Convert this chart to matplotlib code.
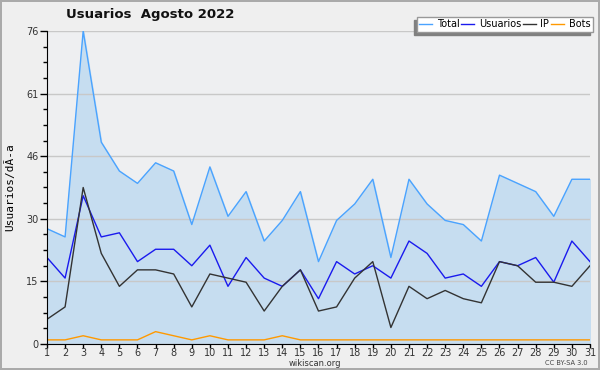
import matplotlib
matplotlib.use("Agg")
import matplotlib.pyplot as plt
from matplotlib.ticker import FixedLocator, MultipleLocator
from matplotlib.patches import Rectangle
import numpy as np

days = list(range(1, 32))
total = [28, 26, 76, 49, 42, 39, 44, 42, 29, 43, 31, 37, 25, 30, 37, 20,
         30, 34, 40, 21, 40, 34, 30, 29, 25, 41, 39, 37, 31, 40, 40]
usuarios = [21, 16, 36, 26, 27, 20, 23, 23, 19, 24, 14, 21, 16, 14, 18, 11,
            20, 17, 19, 16, 25, 22, 16, 17, 14, 20, 19, 21, 15, 25, 20]
ip = [6, 9, 38, 22, 14, 18, 18, 17, 9, 17, 16, 15, 8, 14, 18, 8,
      9, 16, 20, 4, 14, 11, 13, 11, 10, 20, 19, 15, 15, 14, 19]
bots = [1, 1, 2, 1, 1, 1, 3, 2, 1, 2, 1, 1, 1, 2, 1, 1,
        1, 1, 1, 1, 1, 1, 1, 1, 1, 1, 1, 1, 1, 1, 1]
ymax = 76

fig = plt.figure(figsize=(6, 3.7), dpi=100, facecolor="#efefef",
                 edgecolor="#aaaaaa", linewidth=1.5)
ax = fig.add_axes([0.0783, 0.0703, 0.905, 0.8459])
ax.set_facecolor("#eeeff1")

ax.fill_between(days, total, 0, color="#c6ddf0", zorder=1)
ax.plot(days, total, color="#4aa3ff", lw=1, label="Total", zorder=3)
ax.plot(days, usuarios, color="#1a1aee", lw=1, label="Usuarios", zorder=4)
ax.plot(days, ip, color="#333333", lw=1, label="IP", zorder=4)
ax.plot(days, bots, color="#ff9900", lw=1, label="Bots", zorder=4)

ax.set_xlim(1, 31)
ax.set_ylim(0, ymax)
major = [ymax * i / 5 for i in range(6)]
ax.yaxis.set_major_locator(FixedLocator(major))
ax.set_yticklabels([str(int(round(v))) for v in major])
ax.yaxis.set_minor_locator(MultipleLocator(ymax / 20))
ax.set_xticks(days)
ax.grid(axis="y", color="#c8c8c8", lw=1)
for g in ax.get_ygridlines():
    g.set_zorder(2)

for s in ["top", "right"]:
    ax.spines[s].set_visible(False)
ax.spines["left"].set_zorder(5)
ax.spines["bottom"].set_zorder(5)
ax.tick_params(axis="y", which="major", length=5, width=1, labelsize=7,
               labelcolor="#333333", pad=1)
ax.tick_params(axis="y", which="minor", length=3, width=1)
ax.tick_params(axis="x", length=3, width=1, labelsize=7,
               labelcolor="#333333", pad=0, direction="out")

ax.set_ylabel("Usuarios/dÃ-a", fontsize=8, family="DejaVu Sans Mono",
              labelpad=8)
fig.text(0.25, 0.962, "Usuarios  Agosto 2022", fontsize=9.5,
         fontweight="bold", ha="center", va="center", color="#111111")
fig.text(0.525, 0.017, "wikiscan.org", fontsize=6, ha="center",
         va="center", color="#333333")
fig.text(0.98, 0.02, "CC BY-SA 3.0", fontsize=4.8, ha="right",
         va="center", color="#444444")

leg = fig.legend(loc="upper right", bbox_to_anchor=(0.988, 0.955), ncol=4,
                 fontsize=7, handlelength=1.3, handletextpad=0.5,
                 columnspacing=0.2, borderpad=0.25, frameon=True,
                 fancybox=False, borderaxespad=0)
leg.get_frame().set_edgecolor("#999999")
leg.get_frame().set_linewidth(1)
leg.get_frame().set_alpha(1)
leg.set_zorder(10)

# shadow below-left of the legend box
fig.canvas.draw()
bb = leg.get_window_extent().transformed(fig.transFigure.inverted())
dx, dy = 3 / 600, 3 / 370
fig.patches.append(Rectangle((bb.x0 - dx, bb.y0 - dy), bb.width, bb.height,
                             transform=fig.transFigure, color="#808080",
                             zorder=9))

fig.savefig("out.png", dpi=100, facecolor=fig.get_facecolor(),
            edgecolor=fig.get_edgecolor())
